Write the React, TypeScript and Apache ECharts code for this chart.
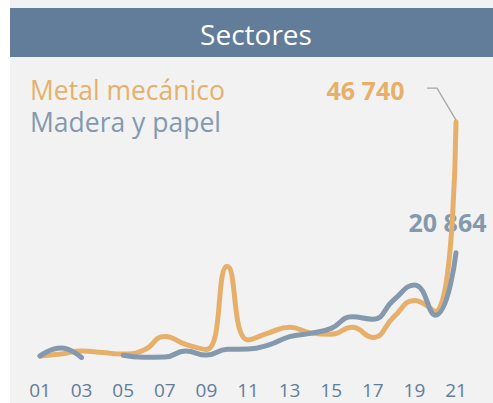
import React, { useEffect, useRef } from "react";
import * as echarts from "echarts";

const years = ["01","02","03","04","05","06","07","08","09","10","11","12","13","14","15","16","17","18","19","20","21"];
const metalMecanico = [420, 800, 1400, 1100, 800, 1600, 4300, 2700, 1700, 18200, 3600, 5000, 6100, 5000, 4700, 6100, 4100, 8100, 11400, 9200, 46740];
const maderaPapel = [420, 2000, 100, null, 550, 150, 200, 1400, 600, 1750, 1800, 2600, 4250, 4900, 5900, 8200, 7700, 11500, 14500, 8500, 20864];
const seriesNames = ["Metal mecánico", "Madera y papel"];
const titleText = "Sectores";

const ORANGE = "#E6B06B";
const BLUE = "#8499AE";
const BAND = "#627D99";
const FONT = '"Open Sans", "Noto Sans", sans-serif';

const fmt = (v: number) => String(v).replace(/\B(?=(\d{3})+(?!\d))/g, " ");

export default function App() {
  const ref = useRef<HTMLDivElement>(null);
  useEffect(() => {
    if (!ref.current) return;
    const chart = echarts.init(ref.current, undefined, { renderer: "svg" });
    chart.setOption({
      animation: false,
      backgroundColor: "#F2F2F2",
      grid: { left: 40, right: 37, top: 105.6, bottom: 44.9 },
      xAxis: {
        type: "category",
        data: years,
        boundaryGap: false,
        axisLine: { show: false },
        axisTick: { show: false },
        splitLine: { show: false },
        axisLabel: { interval: 1, color: BAND, fontSize: 19, lineHeight: 18, fontFamily: FONT, margin: 23 },
      },
      yAxis: { type: "value", min: 0, max: 50000, show: false, splitLine: { show: false } },
      series: [
        {
          name: seriesNames[0], type: "line", data: metalMecanico, smooth: 0.5, showSymbol: false,
          lineStyle: { color: ORANGE, width: 5, cap: "round", join: "round" }, itemStyle: { color: ORANGE }, z: 2,
        },
        {
          name: seriesNames[1], type: "line", data: maderaPapel, smooth: 0.5, showSymbol: false,
          lineStyle: { color: BLUE, width: 5, cap: "round", join: "round" }, itemStyle: { color: BLUE }, z: 3,
        },
      ],
    });
    const last = years.length - 1;
    const pm = chart.convertToPixel({ seriesIndex: 0 }, [last, metalMecanico[last]]) as number[];
    const pb = chart.convertToPixel({ seriesIndex: 1 }, [last, maderaPapel[last] as number]) as number[];
    chart.setOption({
      graphic: [
        { type: "rect", shape: { x: 0, y: 0, width: 10, height: 403 }, style: { fill: "#FFFFFF" }, silent: true },
        { type: "rect", shape: { x: 10, y: 8, width: 483, height: 49 }, style: { fill: BAND }, silent: true },
        { type: "text", x: 256, y: 34, style: { text: titleText, fill: "#FFFFFF", fontSize: 28, fontFamily: FONT, align: "center", verticalAlign: "middle" } },
        { type: "text", x: 30, y: 89.7, style: { text: seriesNames[0], fill: ORANGE, fontSize: 26.5, fontFamily: FONT, align: "left", verticalAlign: "middle" } },
        { type: "text", x: 30, y: 122.4, style: { text: seriesNames[1], fill: BLUE, fontSize: 26.5, fontFamily: FONT, align: "left", verticalAlign: "middle" } },
        { type: "text", x: pm[0] - 90.5, y: pm[1] - 32.4, style: { text: fmt(metalMecanico[last]), fill: ORANGE, fontSize: 25, fontWeight: "bold", fontFamily: FONT, align: "center", verticalAlign: "middle" } },
        { type: "text", x: pb[0] - 8.5, y: pb[1] - 30.4, style: { text: fmt(maderaPapel[last] as number), fill: BLUE, fontSize: 25, fontWeight: "bold", fontFamily: FONT, align: "center", verticalAlign: "middle" } },
        { type: "polyline", shape: { points: [[pm[0] - 29, pm[1] - 34], [pm[0] - 19, pm[1] - 34], [pm[0], pm[1] - 2]] }, style: { stroke: "#A6A6A6", lineWidth: 1.3, fill: "none" }, z: 10 },
      ],
    });
    return () => chart.dispose();
  }, []);
  return <div ref={ref} style={{ position: "fixed", left: 0, top: 0, width: 493, height: 403 }} />;
}
